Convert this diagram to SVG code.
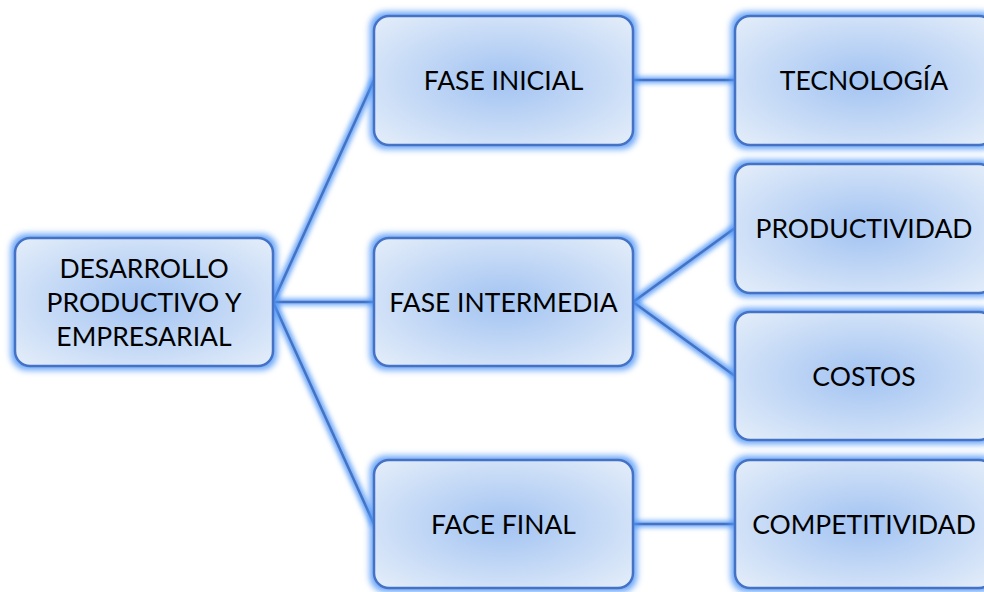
<svg xmlns="http://www.w3.org/2000/svg" width="984" height="592" viewBox="0 0 984 592">
<defs>
<radialGradient id="fillG" cx="50%" cy="50%" r="65%">
<stop offset="0" stop-color="#a2c3f2"/>
<stop offset="1" stop-color="#e0ebf9"/>
</radialGradient>
<filter id="glowBox" x="-10%" y="-15%" width="120%" height="130%">
<feMorphology in="SourceAlpha" operator="dilate" radius="2.5" result="d"/>
<feGaussianBlur in="d" stdDeviation="3" result="b"/>
<feFlood flood-color="#4f96f7" flood-opacity="0.85"/>
<feComposite operator="in" in2="b" result="g"/>
<feMerge><feMergeNode in="g"/><feMergeNode in="SourceGraphic"/></feMerge>
</filter>
<filter id="glowLine" x="-20%" y="-20%" width="140%" height="140%">
<feMorphology in="SourceAlpha" operator="dilate" radius="1.5" result="d"/>
<feGaussianBlur in="d" stdDeviation="2.5" result="b"/>
<feFlood flood-color="#4f96f7" flood-opacity="0.85"/>
<feComposite operator="in" in2="b" result="g"/>
<feMerge><feMergeNode in="g"/><feMergeNode in="SourceGraphic"/></feMerge>
</filter>
</defs>
<style>
.box{fill:url(#fillG);stroke:#4472c4;stroke-width:2.5;filter:url(#glowBox)}
.lbl{font-family:Lato,"Open Sans",sans-serif;font-size:26.5px;fill:#000;text-anchor:middle;dominant-baseline:central}
.con{stroke:#4472c4;stroke-width:2.5;fill:none}
</style>
<rect width="984" height="592" fill="#fff"/>
<g id="connectors" filter="url(#glowLine)">
<line class="con" x1="273" y1="302" x2="374" y2="80"/>
<line class="con" x1="273" y1="302" x2="374" y2="302"/>
<line class="con" x1="273" y1="302" x2="374" y2="524"/>
<line class="con" x1="633" y1="80" x2="735" y2="80"/>
<line class="con" x1="633" y1="302" x2="735" y2="228"/>
<line class="con" x1="633" y1="302" x2="735" y2="376"/>
<line class="con" x1="633" y1="524" x2="735" y2="524"/>
</g>
<g id="root">
<rect class="box" x="15" y="238" width="258" height="128" rx="15"/>
<text class="lbl" x="144" y="268">DESARROLLO</text>
<text class="lbl" x="144" y="302">PRODUCTIVO Y</text>
<text class="lbl" x="144" y="336">EMPRESARIAL</text>
</g>
<g id="fase-inicial">
<rect class="box" x="374" y="16" width="259" height="129" rx="15"/>
<text class="lbl" x="503.5" y="80">FASE INICIAL</text>
</g>
<g id="fase-intermedia">
<rect class="box" x="374" y="238" width="259" height="128" rx="15"/>
<text class="lbl" x="503.5" y="302">FASE INTERMEDIA</text>
</g>
<g id="face-final">
<rect class="box" x="374" y="460" width="259" height="128" rx="15"/>
<text class="lbl" x="503.5" y="524">FACE FINAL</text>
</g>
<g id="tecnologia">
<rect class="box" x="735" y="16" width="259" height="129" rx="15"/>
<text class="lbl" x="864" y="80">TECNOLOGÍA</text>
</g>
<g id="productividad">
<rect class="box" x="735" y="164" width="259" height="129" rx="15"/>
<text class="lbl" x="864" y="228">PRODUCTIVIDAD</text>
</g>
<g id="costos">
<rect class="box" x="735" y="312" width="259" height="128" rx="15"/>
<text class="lbl" x="864" y="376">COSTOS</text>
</g>
<g id="competitividad">
<rect class="box" x="735" y="460" width="259" height="128" rx="15"/>
<text class="lbl" x="864" y="524">COMPETITIVIDAD</text>
</g>
</svg>
